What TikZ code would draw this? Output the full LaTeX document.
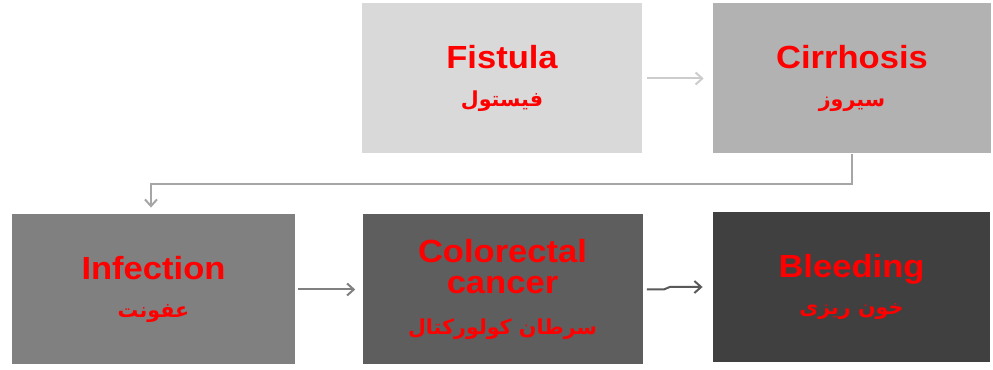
\documentclass[tikz,border=0pt]{standalone}
\usepackage{fontspec}
\setmainfont{Liberation Sans}[FakeStretch=1.08]
\newfontfamily\arabicfont[Script=Arabic]{DejaVu Sans}
\TeXXeTstate=1
\usetikzlibrary{arrows.meta}
\newcommand{\fatext}[1]{{\arabicfont\bfseries\fontsize{15.5}{28}\selectfont\beginR #1\endR}}
\begin{document}
\begin{tikzpicture}[x=0.75pt,y=-0.75pt,
    stage/.style={fill=#1,minimum width=210pt,minimum height=112.5pt,inner sep=0pt,
      align=center,text=red,font=\bfseries\fontsize{24}{28}\selectfont},
    link/.style={line width=1.5pt,draw=#1,-{Straight Barb[length=5pt,width=9pt]}}]
    \useasboundingbox (0,0) rectangle (993,370);
    \node[stage=black!15] (fistula) at (502,78.5) {Fistula\\\fatext{فیستول}};
    \node[stage=black!30,minimum width=208.5pt] (cirrhosis) at (852,78.5) {Cirrhosis\\\fatext{سیروز}};
    \node[stage=black!50,minimum width=212pt] (infection) at (153.5,289.5) {Infection\\\fatext{عفونت}};
    \node[stage=black!63] (cancer) at (502.5,289.5) {Colorectal\\[-5pt]cancer\\[3pt]\fatext{سرطان کولورکتال}};
    \node[stage=black!75,minimum width=208pt] (bleeding) at (851.5,287) {Bleeding\\\fatext{خون ریزی}};
    \draw[link=black!20,shorten <=3.75pt,shorten >=6.75pt] (fistula.east) -- (cirrhosis.west);
    \draw[link=black!35,shorten >=5pt]
      (cirrhosis.south) -- ++(0,30) -| ([xshift=-1.9pt]infection.north);
    \draw[link=black!50,shorten <=2.25pt,shorten >=5.25pt] (infection.east) -- (cancer.west);
    \draw[link=black!65,shorten <=3pt,shorten >=7.5pt]
      (cancer.east) -- ++(21,0) -- ++(6,-2.5) -- (bleeding.west);
\end{tikzpicture}
\end{document}
